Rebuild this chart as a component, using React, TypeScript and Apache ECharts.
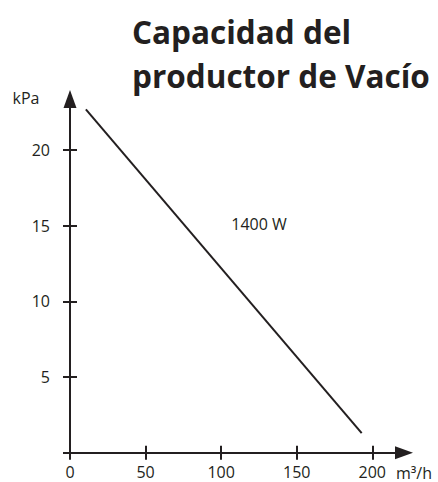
import React, { useEffect, useRef } from "react";
import * as echarts from "echarts";

const titleLines = ["Capacidad del", "productor de Vacío"];
const xTicks = [0, 50, 100, 150, 200];
const yTicks = [0, 5, 10, 15, 20];
const flowValues = [10.5, 193]; // m³/h
const pressureValues = [22.7, 1.3]; // kPa
const seriesName = "1400 W";
const xUnit = "m³/h";
const yUnit = "kPa";

const INK = "#231f20";
const FONT = "Open Sans";

export default function App() {
  const ref = useRef<HTMLDivElement>(null);
  useEffect(() => {
    if (!ref.current) return;
    const chart = echarts.init(ref.current, null, { renderer: "svg" });
    const lineData = flowValues.map((x, i) => [x, pressureValues[i]]);
    const axisCommon = {
      type: "value" as const,
      splitLine: { show: false },
    };
    chart.setOption({
      animation: false,
      title: {
        text: titleLines.join("\n"),
        left: 132,
        top: 9,
        padding: 0,
        textStyle: {
          fontFamily: FONT,
          fontWeight: "bold",
          fontSize: 31.5,
          lineHeight: 44.6,
          color: INK,
        },
      },
      grid: {
        left: 70,
        right: 34,
        top: 99,
        bottom: 29.3,
        containLabel: false,
        outerBoundsMode: "none",
      },
      xAxis: [
        {
          ...axisCommon,
          min: 0,
          max: 221,
          position: "bottom",
          axisLine: {
            show: true,
            symbol: ["none", "triangle"],
            symbolSize: [13, 18],
            lineStyle: { color: INK, width: 2 },
          },
          axisTick: {
            show: true,
            length: 7,
            customValues: xTicks,
            lineStyle: { color: INK, width: 2 },
          },
          axisLabel: {
            customValues: xTicks,
            margin: 11.5,
            fontFamily: FONT,
            fontSize: 16,
            color: INK,
          },
        },
        {
          ...axisCommon,
          min: 0,
          max: 221,
          position: "bottom",
          offset: -7,
          axisLine: { show: false },
          axisTick: {
            show: true,
            length: 7,
            customValues: xTicks,
            lineStyle: { color: INK, width: 2 },
          },
          axisLabel: { show: false },
        },
      ],
      yAxis: [
        {
          ...axisCommon,
          min: 0,
          max: 23.38,
          position: "left",
          axisLine: {
            show: true,
            symbol: ["none", "triangle"],
            symbolSize: [13, 18],
            lineStyle: { color: INK, width: 2 },
          },
          axisTick: {
            show: true,
            length: 7,
            customValues: yTicks,
            lineStyle: { color: INK, width: 2 },
          },
          axisLabel: {
            customValues: yTicks.filter((v) => v !== 0),
            margin: 20,
            fontFamily: FONT,
            fontSize: 16,
            color: INK,
          },
        },
        {
          ...axisCommon,
          min: 0,
          max: 23.38,
          position: "left",
          offset: -7,
          axisLine: { show: false },
          axisTick: {
            show: true,
            length: 7,
            customValues: yTicks,
            lineStyle: { color: INK, width: 2 },
          },
          axisLabel: { show: false },
        },
      ],
      series: [
        {
          name: seriesName,
          type: "line",
          xAxisIndex: 0,
          yAxisIndex: 0,
          data: lineData,
          symbol: "none",
          lineStyle: { color: INK, width: 2 },
        },
      ],
      graphic: [
        {
          type: "text",
          x: 259,
          y: 224,
          style: {
            text: seriesName,
            fontFamily: FONT,
            fontSize: 16,
            fill: INK,
            align: "center",
            verticalAlign: "middle",
          },
        },
        {
          type: "text",
          x: 414,
          y: 472.5,
          style: {
            text: xUnit,
            fontFamily: FONT,
            fontSize: 16,
            fill: INK,
            align: "center",
            verticalAlign: "middle",
          },
        },
        {
          type: "text",
          x: 26,
          y: 98,
          style: {
            text: yUnit,
            fontFamily: FONT,
            fontSize: 16,
            fill: INK,
            align: "center",
            verticalAlign: "middle",
          },
        },
      ],
    });
    return () => chart.dispose();
  }, []);
  return (
    <div
      ref={ref}
      style={{ position: "fixed", left: 0, top: 0, width: 438, height: 482, background: "#fff" }}
    />
  );
}
